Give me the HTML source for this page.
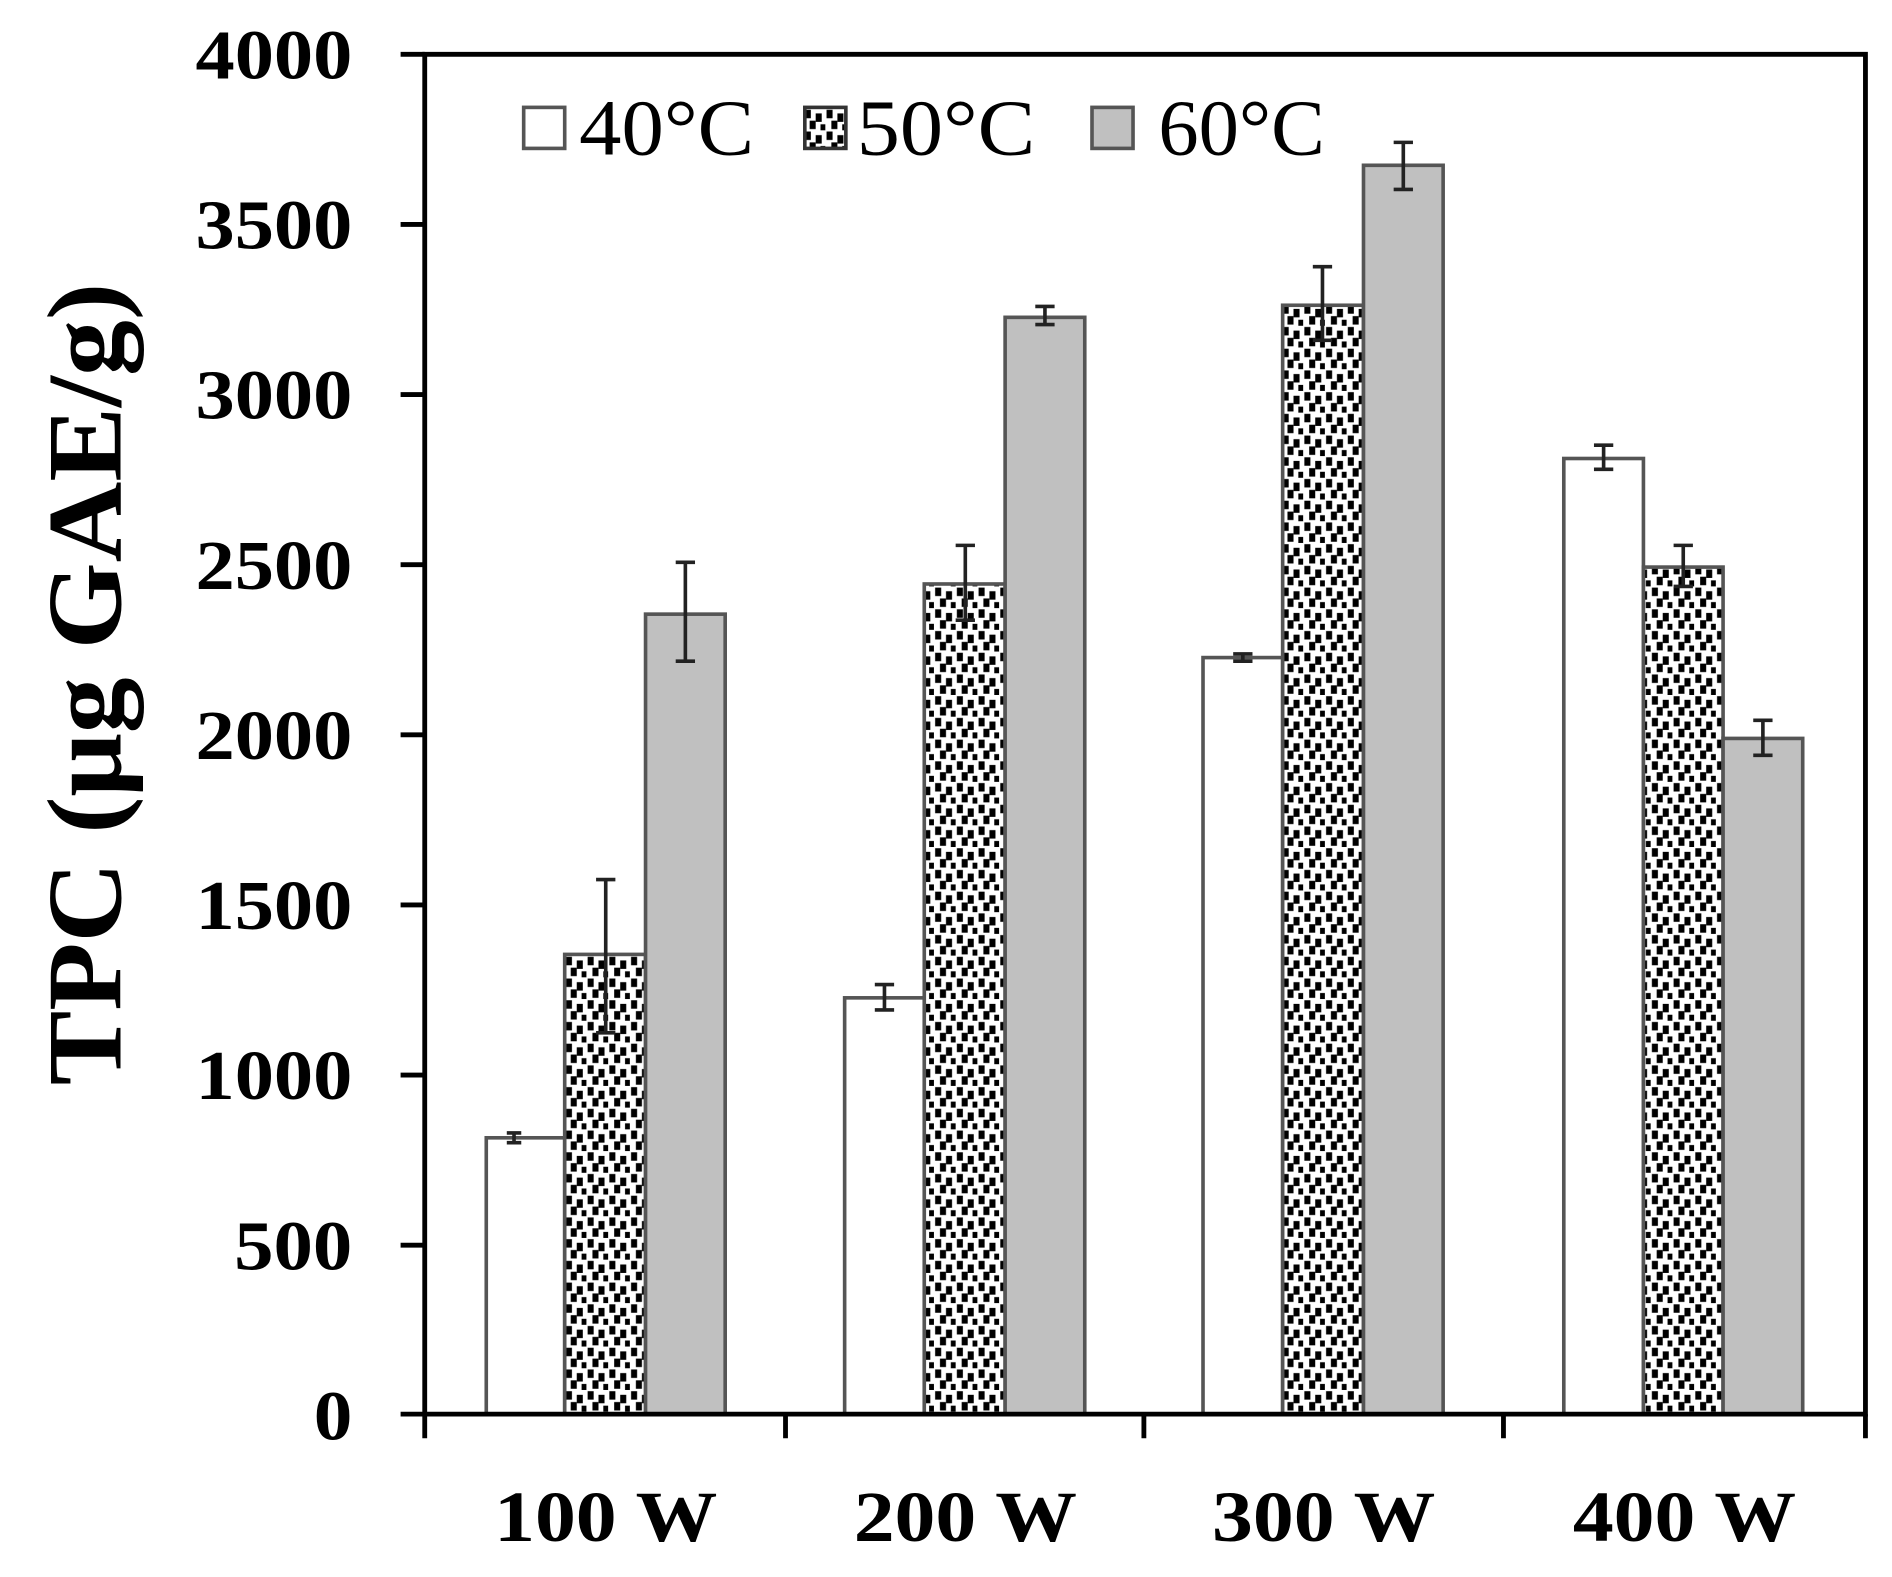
<!DOCTYPE html>
<html><head><style>html,body{margin:0;padding:0;background:#fff;}svg{display:block;}</style></head>
<body>
<svg width="1892" height="1577" viewBox="0 0 1568 1307" preserveAspectRatio="none" xmlns="http://www.w3.org/2000/svg" font-family="Liberation Serif, serif">
<defs>
<pattern id="dots" patternUnits="userSpaceOnUse" width="18" height="18">
<rect width="18" height="18" fill="#fff"/>
<rect x="1" y="1" width="5" height="7" fill="#000"/>
<rect x="10" y="4" width="5" height="7" fill="#000"/>
<rect x="5" y="10" width="5" height="7" fill="#000"/>
<rect x="14" y="13" width="4" height="5" fill="#000"/>
</pattern>
</defs>
<g font-weight="bold" font-size="58" text-anchor="end" fill="#000" lengthAdjust="spacingAndGlyphs">
<text x="292" y="65" textLength="130" lengthAdjust="spacingAndGlyphs">4000</text>
<text x="292" y="206" textLength="130" lengthAdjust="spacingAndGlyphs">3500</text>
<text x="292" y="347" textLength="130" lengthAdjust="spacingAndGlyphs">3000</text>
<text x="292" y="488" textLength="130" lengthAdjust="spacingAndGlyphs">2500</text>
<text x="292" y="629" textLength="130" lengthAdjust="spacingAndGlyphs">2000</text>
<text x="292" y="770" textLength="130" lengthAdjust="spacingAndGlyphs">1500</text>
<text x="292" y="911" textLength="130" lengthAdjust="spacingAndGlyphs">1000</text>
<text x="292" y="1052" textLength="98" lengthAdjust="spacingAndGlyphs">500</text>
<text x="292" y="1193" textLength="32" lengthAdjust="spacingAndGlyphs">0</text>
</g>
<text transform="translate(100,567) rotate(-90)" text-anchor="middle" font-weight="bold" font-size="88" textLength="665" lengthAdjust="spacingAndGlyphs">TPC (μg GAE/g)</text>
<g font-weight="bold" font-size="60" text-anchor="middle">
<text x="502" y="1277" textLength="185" lengthAdjust="spacingAndGlyphs">100 W</text>
<text x="800" y="1277" textLength="185" lengthAdjust="spacingAndGlyphs">200 W</text>
<text x="1097" y="1277" textLength="185" lengthAdjust="spacingAndGlyphs">300 W</text>
<text x="1396" y="1277" textLength="185" lengthAdjust="spacingAndGlyphs">400 W</text>
</g>
<g stroke="#555" stroke-width="3">
<rect x="403" y="943" width="65" height="229" fill="#fff"/>
<rect x="468" y="791" width="67" height="381" fill="url(#dots)"/>
<rect x="535" y="509" width="66" height="663" fill="#c0c0c0"/>
<rect x="700" y="827" width="66" height="345" fill="#fff"/>
<rect x="766" y="484" width="67" height="688" fill="url(#dots)"/>
<rect x="833" y="263" width="66" height="909" fill="#c0c0c0"/>
<rect x="997" y="545" width="66" height="627" fill="#fff"/>
<rect x="1063" y="253" width="67" height="919" fill="url(#dots)"/>
<rect x="1130" y="137" width="66" height="1035" fill="#c0c0c0"/>
<rect x="1296" y="380" width="66" height="792" fill="#fff"/>
<rect x="1362" y="470" width="66" height="702" fill="url(#dots)"/>
<rect x="1428" y="612" width="66" height="560" fill="#c0c0c0"/>
</g>
<g stroke="#222" stroke-width="3">
<path d="M426 939v8M420 939h12M420 947h12"/>
<path d="M502 729v127M494 729h16M494 856h16"/>
<path d="M568 466v82M560 466h16M560 548h16"/>
<path d="M733 816v21M725 816h16M725 837h16"/>
<path d="M800 452v62M792 452h16M792 514h16"/>
<path d="M866 254v15M858 254h16M858 269h16"/>
<path d="M1030 542v6M1022 542h16M1022 548h16"/>
<path d="M1096 221v61M1088 221h16M1088 282h16"/>
<path d="M1163 118v39M1155 118h16M1155 157h16"/>
<path d="M1329 369v20M1321 369h16M1321 389h16"/>
<path d="M1395 452v34M1387 452h16M1387 486h16"/>
<path d="M1461 597v29M1453 597h16M1453 626h16"/>
</g>
<g stroke="#000" stroke-width="4" fill="none">
<path d="M352 45H1546V1172H352Z"/>
<path d="M332 45h20M332 186h20M332 327h20M332 468h20M332 609h20M332 750h20M332 891h20M332 1032h20M332 1172h20"/>
<path d="M352 1172v20M651 1172v20M948 1172v20M1246 1172v20M1546 1172v20"/>
</g>
<rect x="434" y="89" width="34" height="34" fill="#fff" stroke="#555" stroke-width="3"/>
<rect x="667" y="89" width="34" height="34" fill="url(#dots)" stroke="#333" stroke-width="3"/>
<rect x="905" y="89" width="34" height="34" fill="#c0c0c0" stroke="#555" stroke-width="3"/>
<g font-size="66">
<text x="480" y="128" textLength="145" lengthAdjust="spacingAndGlyphs">40°C</text>
<text x="710" y="128" textLength="148" lengthAdjust="spacingAndGlyphs">50°C</text>
<text x="960" y="128" textLength="138" lengthAdjust="spacingAndGlyphs">60°C</text>
</g>
</svg>
</body></html>
